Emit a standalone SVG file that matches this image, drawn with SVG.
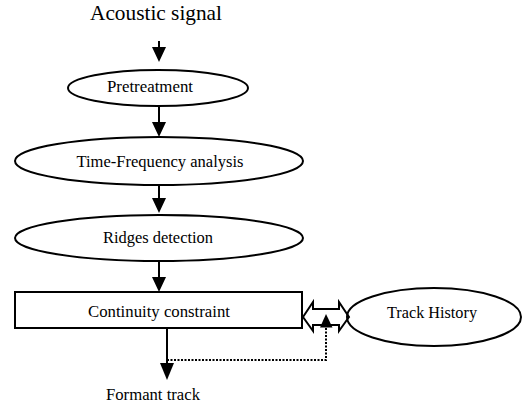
<svg xmlns="http://www.w3.org/2000/svg" width="522" height="412" viewBox="0 0 522 412">
<style>
.n{fill:#fff;stroke:#000;stroke-width:2}
.t{font-family:"Liberation Serif","Times New Roman",serif;font-size:16.5px;fill:#000;text-anchor:middle}
.c{stroke:#000;stroke-width:2;fill:none}
.d{stroke:#000;stroke-width:2;fill:none;stroke-dasharray:2 1.5}
.h{fill:#000;stroke:none}
</style>
<rect width="522" height="412" fill="#fff"/>
<g id="acoustic"><text class="t" x="156" y="20" style="font-size:21px" textLength="132" lengthAdjust="spacingAndGlyphs">Acoustic signal</text></g>
<g id="pretreatment"><ellipse class="n" cx="158" cy="88" rx="90" ry="18"/><text class="t" x="150" y="92" textLength="86" lengthAdjust="spacingAndGlyphs">Pretreatment</text></g>
<g id="tfa"><ellipse class="n" cx="159" cy="161" rx="144" ry="24"/><text class="t" x="160" y="167" textLength="167" lengthAdjust="spacingAndGlyphs">Time-Frequency analysis</text></g>
<g id="ridges"><ellipse class="n" cx="159" cy="238" rx="144" ry="23"/><text class="t" x="158" y="243" textLength="110" lengthAdjust="spacingAndGlyphs">Ridges detection</text></g>
<g id="continuity"><rect class="n" x="15" y="292" width="287" height="36"/><text class="t" x="159" y="317" textLength="142" lengthAdjust="spacingAndGlyphs">Continuity constraint</text></g>
<g id="history"><ellipse class="n" cx="434" cy="317" rx="87" ry="29"/><text class="t" x="432" y="318" textLength="90" lengthAdjust="spacingAndGlyphs">Track History</text></g>
<g id="formant"><text class="t" x="153" y="400" textLength="94" lengthAdjust="spacingAndGlyphs">Formant track</text></g>
<g id="connectors">
<line class="c" x1="159" y1="41" x2="159" y2="50"/>
<polygon class="h" points="152,47 166,47 159,62"/>
<line class="c" x1="159" y1="106" x2="159" y2="125"/>
<polygon class="h" points="152,122 166,122 159,137"/>
<line class="c" x1="159" y1="185" x2="159" y2="201"/>
<polygon class="h" points="152,198 166,198 159,213"/>
<line class="c" x1="159" y1="261" x2="159" y2="280"/>
<polygon class="h" points="152,277 166,277 159,292"/>
<line class="c" x1="167" y1="328" x2="167" y2="366"/>
<polygon class="h" points="160,363 174,363 167,380"/>
<polyline class="d" points="167,360 326,360 326,327"/>
<polygon fill="none" stroke="#000" stroke-width="2" points="303,317 313,302 313,309 339,309 339,302 349,317 339,331 339,325 313,325 313,331"/>
<polygon class="h" points="320,327.5 332.5,327.5 326,314"/>
</g>
</svg>
